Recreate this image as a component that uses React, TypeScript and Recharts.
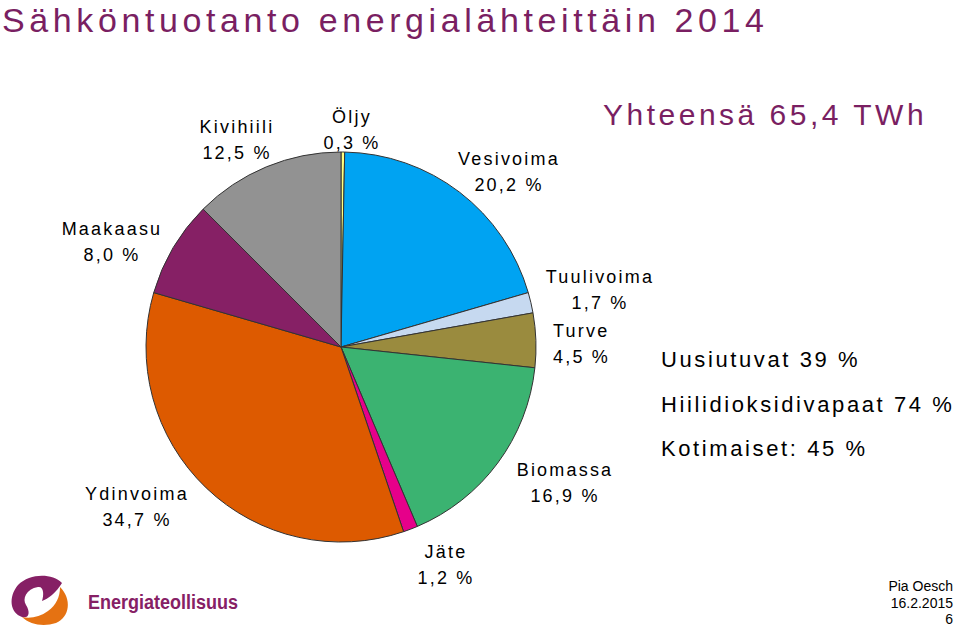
import React from 'react';
import { PieChart, Pie, Cell } from 'recharts';

const sources = ['Öljy', 'Vesivoima', 'Tuulivoima', 'Turve', 'Biomassa', 'Jäte', 'Ydinvoima', 'Maakaasu', 'Kivihiili'];
const shares = [0.3, 20.2, 1.7, 4.5, 16.9, 1.2, 34.7, 8.0, 12.5];
const colors = ['#FFFF80', '#00A3F2', '#C6D9F0', '#9A8B3E', '#3BB371', '#E6008A', '#DD5A00', '#862065', '#929292'];

// label anchors (x = centre of text, y = top of first line)
const labelPos: Record<string, [number, number]> = {
  'Öljy': [352, 104],
  'Vesivoima': [509, 146],
  'Tuulivoima': [600, 264],
  'Turve': [583, 318],
  'Biomassa': [565, 457],
  'Jäte': [446, 539],
  'Ydinvoima': [137, 481],
  'Maakaasu': [112, 216],
  'Kivihiili': [237, 114],
};

const notes = ['Uusiutuvat 39 %', 'Hiilidioksidivapaat 74 %', 'Kotimaiset: 45 %'];

const data = sources.map((name, i) => ({ name, value: shares[i] }));
const fmt = (v: number) => v.toFixed(1).replace('.', ',') + ' %';

const purple = '#7A1F62';
const font = '"Liberation Sans", Arial, sans-serif';

export default function App() {
  return (
    <div style={{ position: 'absolute', left: 0, top: 0, width: 960, height: 630, background: '#fff', fontFamily: font, overflow: 'hidden' }}>
      <div style={{ position: 'absolute', left: 2, top: 0, fontSize: 34, lineHeight: '40px', color: purple, letterSpacing: 4.6, whiteSpace: 'nowrap' }}>
        Sähköntuotanto energialähteittäin 2014
      </div>
      <div style={{ position: 'absolute', left: 603, top: 98, fontSize: 30, color: purple, letterSpacing: 3.5, whiteSpace: 'nowrap' }}>
        Yhteensä 65,4 TWh
      </div>
      <div style={{ position: 'absolute', left: 0, top: 0 }}>
        <PieChart width={960} height={630} margin={{ top: 0, right: 0, bottom: 0, left: 0 }}>
          <Pie
            data={data}
            dataKey="value"
            cx={341}
            cy={347}
            outerRadius={195}
            startAngle={90}
            endAngle={-270}
            stroke="#333"
            strokeWidth={1}
            isAnimationActive={false}
            label={false}
            labelLine={false}
          >
            {data.map((d, i) => (
              <Cell key={d.name} fill={colors[i]} />
            ))}
          </Pie>
        </PieChart>
      </div>
      {data.map((d) => {
        const [x, y] = labelPos[d.name];
        return (
          <div
            key={d.name}
            style={{
              position: 'absolute',
              left: x - 80,
              top: y,
              width: 160,
              textAlign: d.name === 'Turve' ? 'left' : 'center',
              paddingLeft: d.name === 'Turve' ? 50 : 0,
              boxSizing: 'border-box',
              fontSize: 18,
              lineHeight: '26px',
              letterSpacing: 2.2,
              color: '#000',
            }}
          >
            <div>{d.name}</div>
            <div>{fmt(d.value)}</div>
          </div>
        );
      })}
      {notes.map((t, i) => (
        <div key={t} style={{ position: 'absolute', left: 661, top: 347 + i * 44.5, fontSize: 22, letterSpacing: 2.6, whiteSpace: 'nowrap' }}>
          {t}
        </div>
      ))}
      <svg style={{ position: 'absolute', left: 0, top: 565 }} width={300} height={65}>
        <path d="M62 18 C52 8 30 8 18 20 C8 32 10 48 22 52 C30 54 30 46 26 40 C22 34 26 24 38 22 C44 21 44 30 42 36 C48 34 56 28 62 18 Z" fill="#862065" />
        <path d="M60 22 C72 34 70 52 56 58 C44 62 30 60 22 52 C30 54 40 52 48 46 C56 40 60 32 60 22 Z" fill="#E57212" />
        <text x={88} y={44} fontFamily={font} fontWeight="bold" fontSize={20} textLength={150} lengthAdjust="spacingAndGlyphs" fill="#862065">Energiateollisuus</text>
      </svg>
      <div style={{ position: 'absolute', right: 7, top: 578, fontSize: 14, lineHeight: '16.5px', textAlign: 'right' }}>
        <div>Pia Oesch</div>
        <div>16.2.2015</div>
        <div>6</div>
      </div>
    </div>
  );
}
